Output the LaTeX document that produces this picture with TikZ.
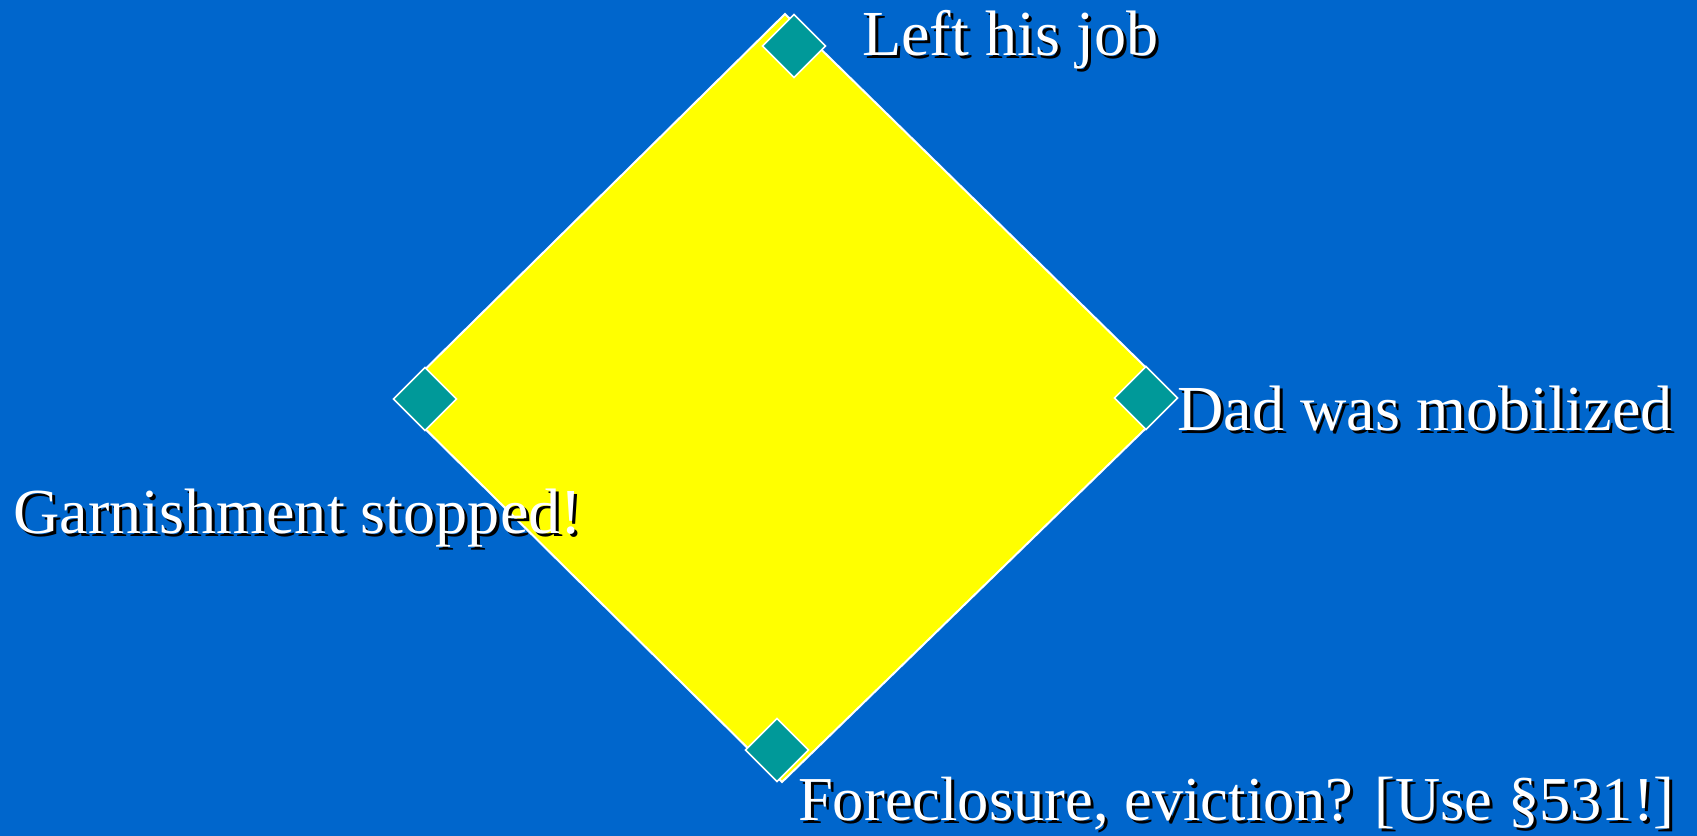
\documentclass[tikz,border=0pt]{standalone}
\usepackage{fontspec}
\setmainfont{Liberation Serif}
\definecolor{bgblue}{HTML}{0066CC}
\definecolor{tealc}{HTML}{009999}
\definecolor{yelc}{HTML}{FFFF00}
\begin{document}
\begin{tikzpicture}[x=1bp,y=-1bp,
  lbl/.style={anchor=base west, inner sep=0pt, text=white, font=\fontsize{64.2bp}{70bp}\selectfont},
  shad/.style={lbl, text=black},
  small/.style={font=\fontsize{62.5bp}{70bp}\selectfont},
  tealdia/.style={fill=tealc, draw=white, line width=1.5bp, line join=miter},
  yeldia/.style={fill=yelc, draw=white, line width=2bp}]
\fill[bgblue] (0,0) rectangle (1697,836);
\useasboundingbox (0,0) rectangle (1697,836);
% big yellow diamond
\draw[yeldia] (785,14) coordinate (ytop) -- (1177,398) coordinate (yright) -- (782,782) coordinate (ybot) -- (395,399) coordinate (yleft) -- cycle;
% teal diamonds
\coordinate (dtop) at (794,46);
\coordinate (dleft) at (425,399);
\coordinate (dright) at (1146,398);
\coordinate (dbot) at (777,750);
\foreach \c in {dtop,dleft,dright,dbot}
  \draw[tealdia] (\c) +(0,-31.5) -- +(31.5,0) -- +(0,31.5) -- +(-31.5,0) -- cycle;
% labels with shadow
\node[shad] (s1) at (865,58) {Left his job};
\node[lbl] (t1) at (862,55) {Left his job};
\node[shad] (s2) at (1180,433) {Dad was mobilized};
\node[lbl] (t2) at (1177,430) {Dad was mobilized};
\node[shad] (s3) at (16,536) {Garnishment stopped!};
\node[lbl] (t3) at (13,533) {Garnishment stopped!};
\node[shad, small] (s4) at (801,823) {Foreclosure, eviction? [Use §531!]};
\node[lbl, small] (t4) at (798,820) {Foreclosure, eviction? [Use §531!]};
\end{tikzpicture}
\end{document}
